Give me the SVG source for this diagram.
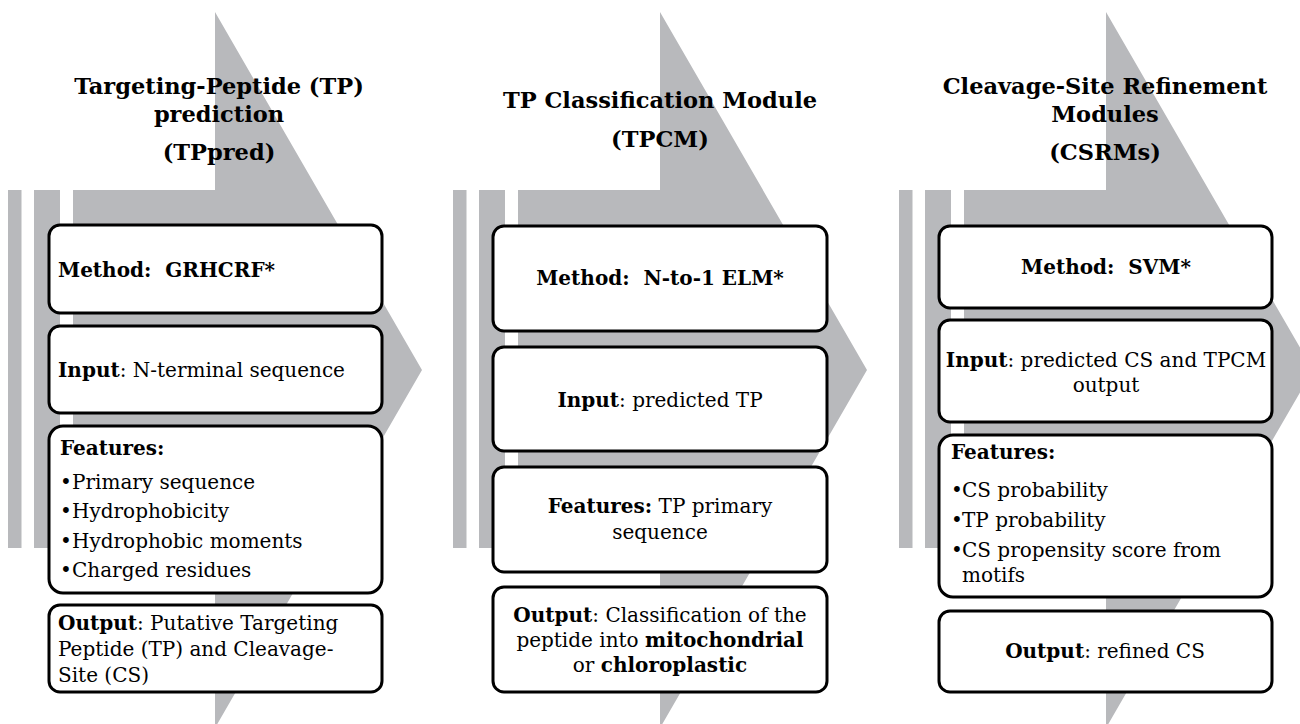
<svg xmlns="http://www.w3.org/2000/svg" width="1300" height="724" viewBox="0 0 1300 724">
<style>
.bg{fill:#b8b9bc}
.box{fill:#fff;stroke:#000;stroke-width:3}
.t{font-family:"DejaVu Serif","Liberation Serif",serif;font-size:20px;fill:#000}
.h{font-family:"DejaVu Serif","Liberation Serif",serif;font-size:22.5px;font-weight:bold;fill:#000;text-anchor:middle}
.b{font-weight:bold}
.c{text-anchor:middle}
</style>
<defs>
<g id="arrow">
<path class="bg" d="M73,190 H215 V12 L422,370 L215,728 V548 H73 Z"/>
<rect class="bg" x="8" y="190" width="13.5" height="358"/>
<rect class="bg" x="34" y="190" width="26" height="358"/>
</g>
</defs>
<g id="connectors">
<use href="#arrow"/>
<use href="#arrow" transform="translate(445,0)"/>
<use href="#arrow" transform="translate(891,0)"/>
</g>
<g id="title1">
<text class="h" x="219" y="94">Targeting-Peptide (TP)</text>
<text class="h" x="219" y="122">prediction</text>
<text class="h" x="219" y="160">(TPpred)</text>
</g>
<g id="title2">
<text class="h" x="660" y="108">TP Classification Module</text>
<text class="h" x="660" y="147">(TPCM)</text>
</g>
<g id="title3">
<text class="h" x="1105" y="94">Cleavage-Site Refinement</text>
<text class="h" x="1105" y="122">Modules</text>
<text class="h" x="1105" y="160">(CSRMs)</text>
</g>
<g id="c1-method">
<rect class="box" x="49" y="225" width="333" height="88" rx="11"/>
<text class="t b" x="58" y="277" xml:space="preserve">Method:  GRHCRF*</text>
</g>
<g id="c1-input">
<rect class="box" x="49" y="326" width="333" height="87" rx="11"/>
<text class="t" x="58" y="377"><tspan class="b">Input</tspan>: N-terminal sequence</text>
</g>
<g id="c1-features">
<rect class="box" x="49" y="426" width="333" height="167" rx="14"/>
<text class="t b" x="60" y="455">Features:</text>
<text class="t" x="60" y="489">•</text><text class="t" x="72" y="489">Primary sequence</text>
<text class="t" x="60" y="518">•</text><text class="t" x="72" y="518">Hydrophobicity</text>
<text class="t" x="60" y="548">•</text><text class="t" x="72" y="548">Hydrophobic moments</text>
<text class="t" x="60" y="577">•</text><text class="t" x="72" y="577">Charged residues</text>
</g>
<g id="c1-output">
<rect class="box" x="49" y="605" width="333" height="87" rx="11"/>
<text class="t" x="58" y="630"><tspan class="b">Output</tspan>: Putative Targeting</text>
<text class="t" x="58" y="656">Peptide (TP) and Cleavage-</text>
<text class="t" x="58" y="682">Site (CS)</text>
</g>
<g id="c2-method">
<rect class="box" x="493" y="226" width="334" height="105" rx="11"/>
<text class="t b c" x="660" y="285" xml:space="preserve">Method:  N-to-1 ELM*</text>
</g>
<g id="c2-input">
<rect class="box" x="493" y="347" width="334" height="104" rx="11"/>
<text class="t c" x="660" y="407"><tspan class="b">Input</tspan>: predicted TP</text>
</g>
<g id="c2-features">
<rect class="box" x="493" y="467" width="334" height="105" rx="11"/>
<text class="t c" x="660" y="513"><tspan class="b">Features:</tspan> TP primary</text>
<text class="t c" x="660" y="539">sequence</text>
</g>
<g id="c2-output">
<rect class="box" x="493" y="587" width="334" height="105" rx="11"/>
<text class="t c" x="660" y="622"><tspan class="b">Output</tspan>: Classification of the</text>
<text class="t c" x="660" y="647">peptide into <tspan class="b">mitochondrial</tspan></text>
<text class="t c" x="660" y="672">or <tspan class="b">chloroplastic</tspan></text>
</g>
<g id="c3-method">
<rect class="box" x="939" y="226" width="333" height="82" rx="11"/>
<text class="t b c" x="1106" y="274" xml:space="preserve">Method:  SVM*</text>
</g>
<g id="c3-input">
<rect class="box" x="939" y="320" width="333" height="102" rx="11"/>
<text class="t c" x="1106" y="367"><tspan class="b">Input</tspan>: predicted CS and TPCM</text>
<text class="t c" x="1106" y="392">output</text>
</g>
<g id="c3-features">
<rect class="box" x="939" y="435" width="333" height="162" rx="14"/>
<text class="t b" x="951" y="459">Features:</text>
<text class="t" x="951" y="497">•</text><text class="t" x="962" y="497">CS probability</text>
<text class="t" x="951" y="527">•</text><text class="t" x="962" y="527">TP probability</text>
<text class="t" x="951" y="557">•</text><text class="t" x="962" y="557">CS propensity score from</text>
<text class="t" x="962" y="582">motifs</text>
</g>
<g id="c3-output">
<rect class="box" x="939" y="611" width="333" height="81" rx="11"/>
<text class="t c" x="1105" y="658"><tspan class="b">Output</tspan>: refined CS</text>
</g>
</svg>
